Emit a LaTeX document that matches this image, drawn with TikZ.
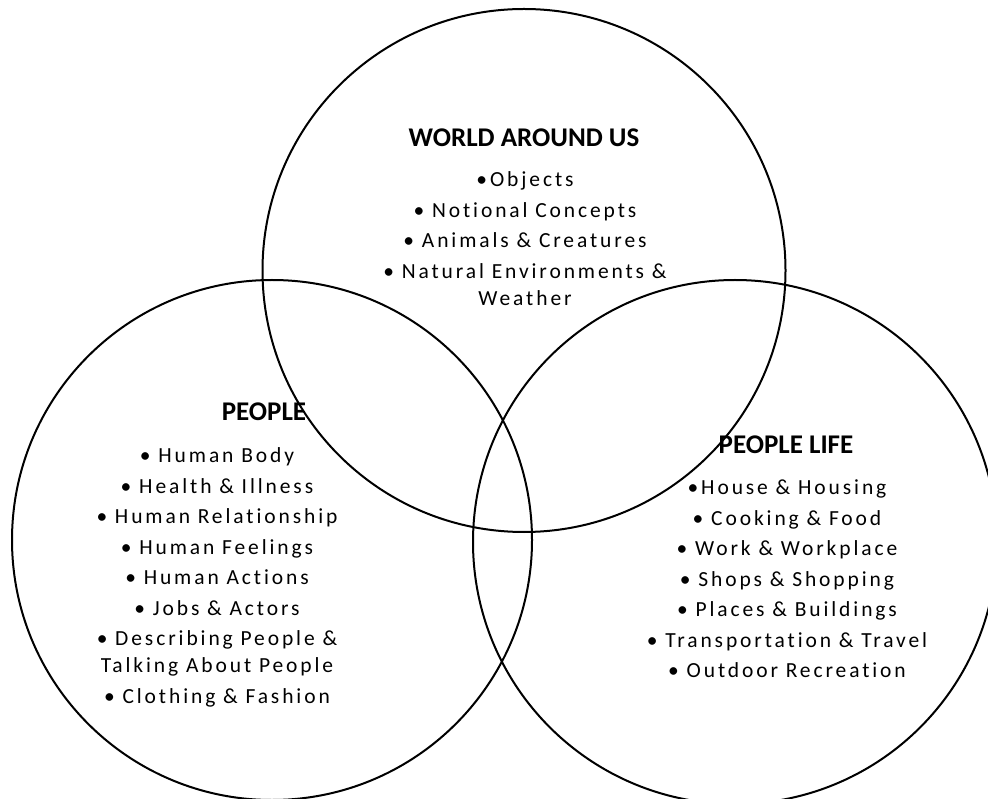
\documentclass[tikz,border=0pt]{standalone}
\usepackage{fontspec}
\setmainfont{Carlito}
\newfontfamily\itemfont[LetterSpace=13.5, RawFeature={-liga;-clig;-calt;-dlig}]{Carlito}
\usetikzlibrary{positioning}

\begin{document}
\begin{tikzpicture}[x=1pt, y=-1pt, line width=2pt,
    head/.style={inner sep=0pt, font=\bfseries\fontsize{27}{30}\selectfont},
    items/.style={inner sep=0pt, align=center, font=\itemfont\fontsize{21.5}{30.5}\selectfont}]
    \useasboundingbox (0,0) rectangle (988,799);
    \clip (0,0) rectangle (988,799);
    \coordinate (W) at (524,270.5); \coordinate (P) at (272,540); \coordinate (L) at (735,542);
    \draw (W) circle[radius=261.5pt];
    \draw (P) circle[radius=260pt];
    \draw (L) circle[radius=262pt];
    % world around us
    \node[head, anchor=base] (worldhead) at (524,147) {WORLD AROUND US};
    \node[items, anchor=base] (worlditems) at (525,306) {•Objects\\ • Notional Concepts\\ • Animals \& Creatures\\
        • Natural Environments \&\\[-3pt] Weather};
    % people
    \node[head, anchor=base] (peoplehead) at (264,420.5) {PEOPLE};
    \node[items, anchor=base] (peopleitems) at (217,703) {• Human Body\\ • Health \& Illness\\ • Human Relationship\\
        • Human Feelings\\ • Human Actions\\ • Jobs \& Actors\\ • Describing People \&\\[-3.5pt] Talking About People\\
        • Clothing \& Fashion};
    % people life
    \node[head, anchor=base] (lifehead) at (786,453.5) {PEOPLE LIFE};
    \node[items, anchor=base] (lifeitems) at (787,677.5) {•House \& Housing\\ • Cooking \& Food\\ • Work \& Workplace\\
        • Shops \& Shopping\\ • Places \& Buildings\\ • Transportation \& Travel\\ • Outdoor Recreation};
\end{tikzpicture}
\end{document}
